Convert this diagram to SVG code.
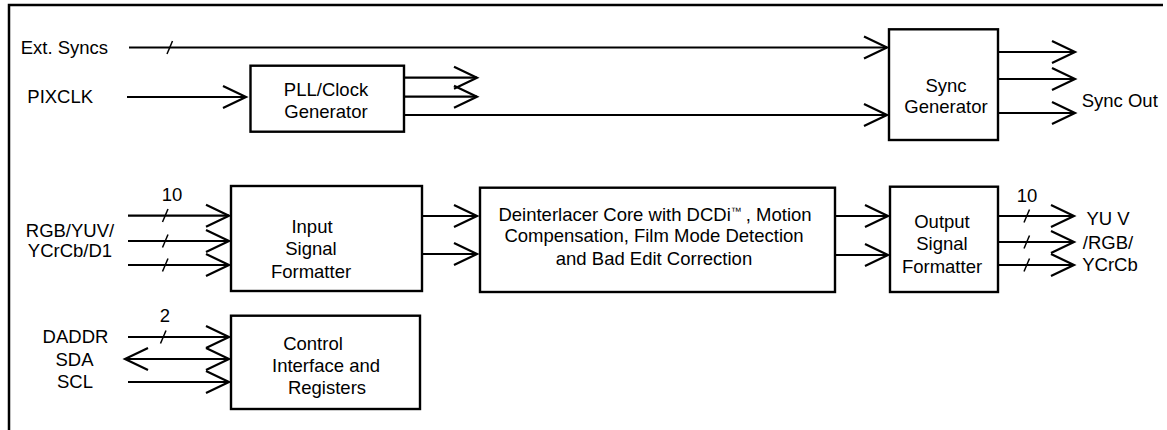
<svg xmlns="http://www.w3.org/2000/svg" width="1167" height="430" viewBox="0 0 1167 430">
<style>
text{font-family:"Liberation Sans",Arial,sans-serif;font-size:18.5px;fill:#000}
.c{text-anchor:middle}
.tm{font-size:11px}
.box{fill:#fff;stroke:#000;stroke-width:2.4}
.w{fill:none;stroke:#000;stroke-width:2.2}
.a{marker-end:url(#chev)}
.sl{fill:none;stroke:#000;stroke-width:1.5}
.frame{fill:none;stroke:#000;stroke-width:2.5}
</style>
<defs>
<marker id="chev" markerUnits="userSpaceOnUse" viewBox="-26 -14 30 28" markerWidth="30" markerHeight="28" refX="0" refY="0" orient="auto-start-reverse" overflow="visible">
<path d="M-23,-11 L0,0 L-23,11" fill="none" stroke="#000" stroke-width="2.2"/>
</marker>
</defs>
<rect width="1167" height="430" fill="#fff"/>
<path class="frame" d="M9,430 L9,5 L1163,5"/>

<g id="connectors">
<path class="w a" d="M129,47.5 H887"/>
<path class="w a" d="M127,97 H246"/>
<path class="w a" d="M401,77.7 H477"/>
<path class="w a" d="M401,96.7 H477"/>
<path class="w a" d="M401,115 H887"/>
<path class="w a" d="M998,52 H1075"/>
<path class="w a" d="M998,79 H1075"/>
<path class="w a" d="M997,113 H1075"/>
<path class="w a" d="M128,215.7 H229"/>
<path class="w a" d="M128,241 H229"/>
<path class="w a" d="M128,265 H229"/>
<path class="w a" d="M422,216 H477"/>
<path class="w a" d="M417,254 H477"/>
<path class="w a" d="M835,216 H888"/>
<path class="w a" d="M833,255 H888"/>
<path class="w a" d="M997,216 H1074"/>
<path class="w a" d="M997,242 H1074"/>
<path class="w a" d="M997,265 H1074"/>
<path class="w a" d="M128,337 H229"/>
<path class="w a" d="M125,359 H229" marker-start="url(#chev)"/>
<path class="w a" d="M128,382 H229"/>
<g id="bus-slashes">
<path class="sl" d="M167,54 L172.5,41"/>
<path class="sl" d="M162.5,222 L168,209"/>
<path class="sl" d="M162.5,247.5 L168,234.5"/>
<path class="sl" d="M162.5,271.5 L168,258.5"/>
<path class="sl" d="M1024,222.5 L1029.5,209.5"/>
<path class="sl" d="M1024,248.5 L1029.5,235.5"/>
<path class="sl" d="M1024,271.5 L1029.5,258.5"/>
<path class="sl" d="M160.5,343.5 L166,330.5"/>
</g>
</g>

<g id="labels">
<text x="20.7" y="54">Ext. Syncs</text>
<text x="27.3" y="102.7">PIXCLK</text>
<text class="c" x="70" y="236.7">RGB/YUV/</text>
<text class="c" x="70" y="256.7">YCrCb/D1</text>
<text class="c" x="172" y="200.7">10</text>
<text class="c" x="1027" y="201.7">10</text>
<text class="c" x="165" y="321.7">2</text>
<text class="c" x="75.5" y="343.3">DADDR</text>
<text class="c" x="74.5" y="366">SDA</text>
<text class="c" x="75" y="388.3">SCL</text>
<text x="1081.7" y="106.7">Sync Out</text>
<text class="c" x="1108" y="225">YU V</text>
<text class="c" x="1108" y="249.3">/RGB/</text>
<text class="c" x="1110" y="270.7">YCrCb</text>
</g>

<g id="pll">
<rect class="box" x="250.5" y="65.7" width="153.5" height="66"/>
<text class="c" x="326" y="95.7">PLL/Clock</text>
<text class="c" x="326" y="118">Generator</text>
</g>

<g id="sync-gen">
<rect class="box" x="889" y="29.3" width="109" height="110.7"/>
<text class="c" x="946" y="91.7">Sync</text>
<text class="c" x="946" y="112.7">Generator</text>
</g>

<g id="input-formatter">
<rect class="box" x="231" y="186" width="191" height="105"/>
<text class="c" x="312" y="233.3">Input</text>
<text class="c" x="311" y="255">Signal</text>
<text class="c" x="311" y="278.3">Formatter</text>
</g>

<g id="deinterlacer">
<rect class="box" x="480" y="187.7" width="355" height="104.3"/>
<text class="c" x="655" y="221">Deinterlacer Core with DCDi<tspan class="tm" dy="-6">™</tspan><tspan dx="4" dy="6">, Motion</tspan></text>
<text class="c" x="654" y="241.7">Compensation, Film Mode Detection</text>
<text class="c" x="654" y="265">and Bad Edit Correction</text>
</g>

<g id="output-formatter">
<rect class="box" x="890" y="186.7" width="108" height="105.3"/>
<text class="c" x="942" y="228.3">Output</text>
<text class="c" x="942" y="250">Signal</text>
<text class="c" x="942" y="273.3">Formatter</text>
</g>

<g id="control">
<rect class="box" x="231" y="315.7" width="189" height="93.3"/>
<text class="c" x="313" y="350">Control</text>
<text class="c" x="326" y="371.7">Interface and</text>
<text class="c" x="327" y="394.3">Registers</text>
</g>
</svg>
